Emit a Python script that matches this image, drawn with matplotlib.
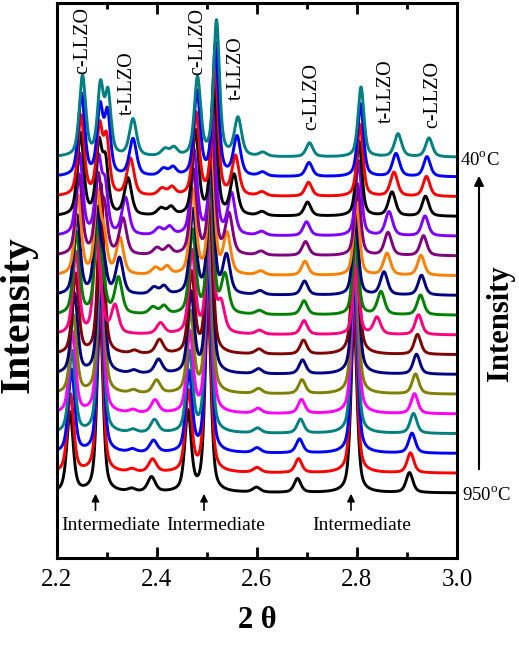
import numpy as np
import matplotlib.pyplot as plt

plt.rcParams['font.family'] = ['Liberation Serif', 'DejaVu Serif']
plt.rcParams['mathtext.fontset'] = 'custom'
plt.rcParams['mathtext.rm'] = 'Liberation Serif'

# curves listed from bottom (950 C) to top (40 C)
colors = ['#000000', '#ff0000', '#0000ff', '#008080', '#ff00ff', '#808000',
          '#000080', '#800000', '#ff0080', '#008000', '#000080', '#ff8000',
          '#800080', '#8000ff', '#000000', '#ff0000', '#0000ff', '#008080']

# peak positions (2 theta) and heights for each curve
c1_pos = [2.226, 2.227, 2.229, 2.230, 2.231, 2.233, 2.235, 2.237, 2.238,
          2.239, 2.240, 2.242, 2.244, 2.245, 2.247, 2.248, 2.249, 2.251]
c1_h = [80, 78, 83, 82, 81, 78, 80, 80, 82, 82, 79, 79, 80, 81, 82, 80, 82, 80]

a_pos = [2.286, 2.286, 2.287, 2.287, 2.287, 2.288, 2.288, 2.288, 2.279,
         2.281, 2.280, 2.281, 2.282, 2.283, 2.284, 2.285, 2.286, 2.287]
a_h = [180, 178, 176, 175, 174, 172, 172, 170, 95,
       88, 82, 78, 74, 72, 68, 66, 66, 68]

a2_pos = [2.30, 2.30, 2.30, 2.30, 2.30, 2.30, 2.30, 2.30, 2.290,
          2.292, 2.293, 2.294, 2.295, 2.296, 2.297, 2.299, 2.301, 2.302]
a2_h = [0, 0, 0, 0, 0, 0, 0, 0, 15, 25, 30, 36, 42, 46, 50, 54, 60, 60]

t1_pos = [2.349, 2.350, 2.351, 2.352, 2.352, 2.353, 2.354, 2.355, 2.316,
          2.323, 2.325, 2.326, 2.332, 2.337, 2.342, 2.347, 2.352, 2.352]
t1_h = [3, 3, 3, 3, 3, 3, 3, 3, 28, 36, 36, 36, 36, 37, 37, 37, 37, 37]

s1_pos = [2.389, 2.391, 2.393, 2.395, 2.396, 2.399, 2.403, 2.405, 2.407,
          2.392, 2.394, 2.397, 2.400, 2.404, 2.408, 2.410, 2.413, 2.416]
s1_h = [15, 13, 12, 13, 13, 13, 14, 14, 11, 7, 7, 7, 7, 7, 7, 7, 7, 7]

s2_pos = [2.42, 2.42, 2.42, 2.42, 2.42, 2.42, 2.42, 2.42, 2.42,
          2.414, 2.414, 2.420, 2.423, 2.425, 2.428, 2.430, 2.432, 2.434]
s2_h = [0, 0, 0, 0, 0, 0, 0, 0, 0, 8, 8, 8, 8, 8, 8, 8, 8, 8]

c2_pos = [2.462, 2.463, 2.464, 2.465, 2.466, 2.467, 2.468, 2.469, 2.470,
          2.471, 2.472, 2.472, 2.473, 2.474, 2.477, 2.478, 2.480, 2.481]
c2_h = [80, 80, 80, 80, 80, 80, 80, 80, 82, 83, 84, 84, 84, 84, 84, 82, 84, 78]

b_pos = [2.502, 2.502, 2.503, 2.503, 2.504, 2.504, 2.505, 2.505, 2.506,
         2.507, 2.508, 2.509, 2.510, 2.512, 2.514, 2.516, 2.517, 2.519]
b_h = [190, 190, 188, 188, 186, 186, 185, 185, 150,
       135, 130, 130, 130, 130, 130, 130, 132, 135]

t2_pos = [2.56, 2.56, 2.56, 2.56, 2.56, 2.56, 2.56, 2.56, 2.528,
          2.536, 2.539, 2.540, 2.544, 2.549, 2.554, 2.557, 2.560, 2.562]
t2_h = [0, 0, 0, 0, 0, 0, 0, 0, 28, 38, 38, 40, 40, 41, 40, 39, 39, 38]

s4_pos = [2.599, 2.600, 2.600, 2.601, 2.602, 2.603, 2.603, 2.604, 2.605,
          2.605, 2.606, 2.607, 2.608, 2.609, 2.610, 2.610, 2.611, 2.612]
s4_h = [5, 5, 5, 5, 5, 5, 5, 5, 4, 4, 4, 4, 4, 4, 4, 4, 4, 4]

c3_pos = [2.681, 2.683, 2.685, 2.687, 2.689, 2.690, 2.691, 2.693, 2.694,
          2.694, 2.695, 2.696, 2.697, 2.699, 2.701, 2.703, 2.704, 2.705]
c3_h = [14, 14, 14, 14, 14, 14, 14, 14, 14, 14, 14, 14, 14, 14, 14, 14, 14, 14]

c_pos = [2.794, 2.794, 2.795, 2.795, 2.796, 2.796, 2.797, 2.797, 2.798,
         2.797, 2.797, 2.799, 2.801, 2.803, 2.804, 2.806, 2.807, 2.808]
c_h = [175, 175, 174, 174, 172, 172, 170, 170, 67,
       76, 75, 73, 72, 75, 75, 72, 73, 70]

t3_pos = [2.86, 2.86, 2.86, 2.86, 2.86, 2.86, 2.86, 2.86, 2.840,
          2.848, 2.854, 2.860, 2.862, 2.864, 2.870, 2.874, 2.878, 2.882]
t3_h = [0, 0, 0, 0, 0, 0, 0, 0, 17, 23, 23, 22, 23, 24, 24, 24, 23, 23]

c4_pos = [2.905, 2.907, 2.910, 2.913, 2.915, 2.917, 2.919, 2.921, 2.923,
          2.927, 2.929, 2.928, 2.933, 2.936, 2.937, 2.939, 2.940, 2.944]
c4_h = [20, 20, 20, 20, 20, 20, 20, 20, 20, 20, 20, 20, 20, 20, 20, 20, 20, 19]

xtick_labels = ['2.2', '2.4', '2.6', '2.8', '3.0']
phase_labels = ['c-LLZO', 't-LLZO', 'c-LLZO', 't-LLZO', 'c-LLZO', 't-LLZO', 'c-LLZO']
phase_x = [2.251, 2.341, 2.481, 2.559, 2.710, 2.858, 2.951]
arrow_x = [2.277, 2.494, 2.788]
inter_x = [2.307, 2.518, 2.810]


def peak(x, x0, h, w, eta=0.55):
    """
    Pseudo-Voigt line, w is the half width.
    """
    u = (x - x0) / w
    return h * (eta / (1 + u ** 2) + (1 - eta) * np.exp(-np.log(2) * u ** 2))


peaks = [(c1_pos, c1_h, 0.0075), (a_pos, a_h, 0.007), (a2_pos, a2_h, 0.007),
         (t1_pos, t1_h, 0.0085), (s1_pos, s1_h, 0.009), (s2_pos, s2_h, 0.008),
         (c2_pos, c2_h, 0.0075), (b_pos, b_h, 0.007), (t2_pos, t2_h, 0.0085),
         (s4_pos, s4_h, 0.009), (c3_pos, c3_h, 0.008), (c_pos, c_h, 0.007),
         (t3_pos, t3_h, 0.0085), (c4_pos, c4_h, 0.008)]

two_theta = np.linspace(2.2, 3.0, 2001)
offset0 = 65
step = 19.75

fig = plt.figure(figsize=(5.19, 6.49), dpi=100)
ax = fig.add_axes([57 / 519, 91 / 649, 400 / 519, 555 / 649])

for i, color in enumerate(colors):
    y = np.zeros_like(two_theta)
    for pos, h, w in peaks:
        y += peak(two_theta, pos[i], h[i], w)
    ax.plot(two_theta, y + offset0 + step * i, color=color, lw=2.1)

ax.set_xlim(2.2, 3.0)
ax.set_ylim(0, 555)
ax.set_xticks(np.arange(2.2, 3.01, 0.2))
ax.set_xticklabels(xtick_labels)
ax.set_xticks(np.arange(2.3, 3.0, 0.2), minor=True)
ax.set_yticks([])
ax.tick_params(axis='x', which='both', direction='in', top=True, width=2,
               labelsize=18, pad=8)
ax.tick_params(axis='x', which='major', length=8)
ax.tick_params(axis='x', which='minor', length=4)
for s in ax.spines.values():
    s.set_linewidth(2.2)

ax.set_xlabel('2 θ', fontsize=22, fontweight='bold', va='center')
ax.xaxis.set_label_coords(0.5, -0.112)

# peak labels
label_bottom = [484, 443, 483, 458, 428, 435, 430]
for txt, x, yb in zip(phase_labels, phase_x, label_bottom):
    ax.text(x, yb, txt, rotation=90, ha='center', va='bottom', fontsize=14.5)

for ax_x, tx in zip(arrow_x, inter_x):
    ax.annotate('', xy=(ax_x, 67), xytext=(ax_x, 45),
                arrowprops=dict(arrowstyle='-|>', color='k', lw=1.2,
                                mutation_scale=11))
    ax.text(tx, 33, 'Intermediate', ha='center', va='center', fontsize=14)

fig.text(18.5 / 519, 1 - 315 / 649, 'Intensity', rotation=90, fontsize=30,
         fontweight='bold', ha='center', va='center')
fig.text(500 / 519, 1 - 323 / 649, 'Intensity', rotation=90, fontsize=22,
         fontweight='bold', ha='center', va='center')
fig.text(460 / 519, 1 - 160 / 649, r'40$^{\mathrm{o}}$C', fontsize=13.5,
         ha='left', va='center')
fig.text(462 / 519, 1 - 495 / 649, r'950$^{\mathrm{o}}$C', fontsize=13.5,
         ha='left', va='center')
ax.annotate('', xy=(479 / 519, 1 - 173 / 649), xycoords='figure fraction',
            xytext=(479 / 519, 1 - 472 / 649), textcoords='figure fraction',
            arrowprops=dict(arrowstyle='-|>', color='k', lw=1.5,
                            mutation_scale=14), annotation_clip=False)

fig.savefig('out.png', dpi=100)
